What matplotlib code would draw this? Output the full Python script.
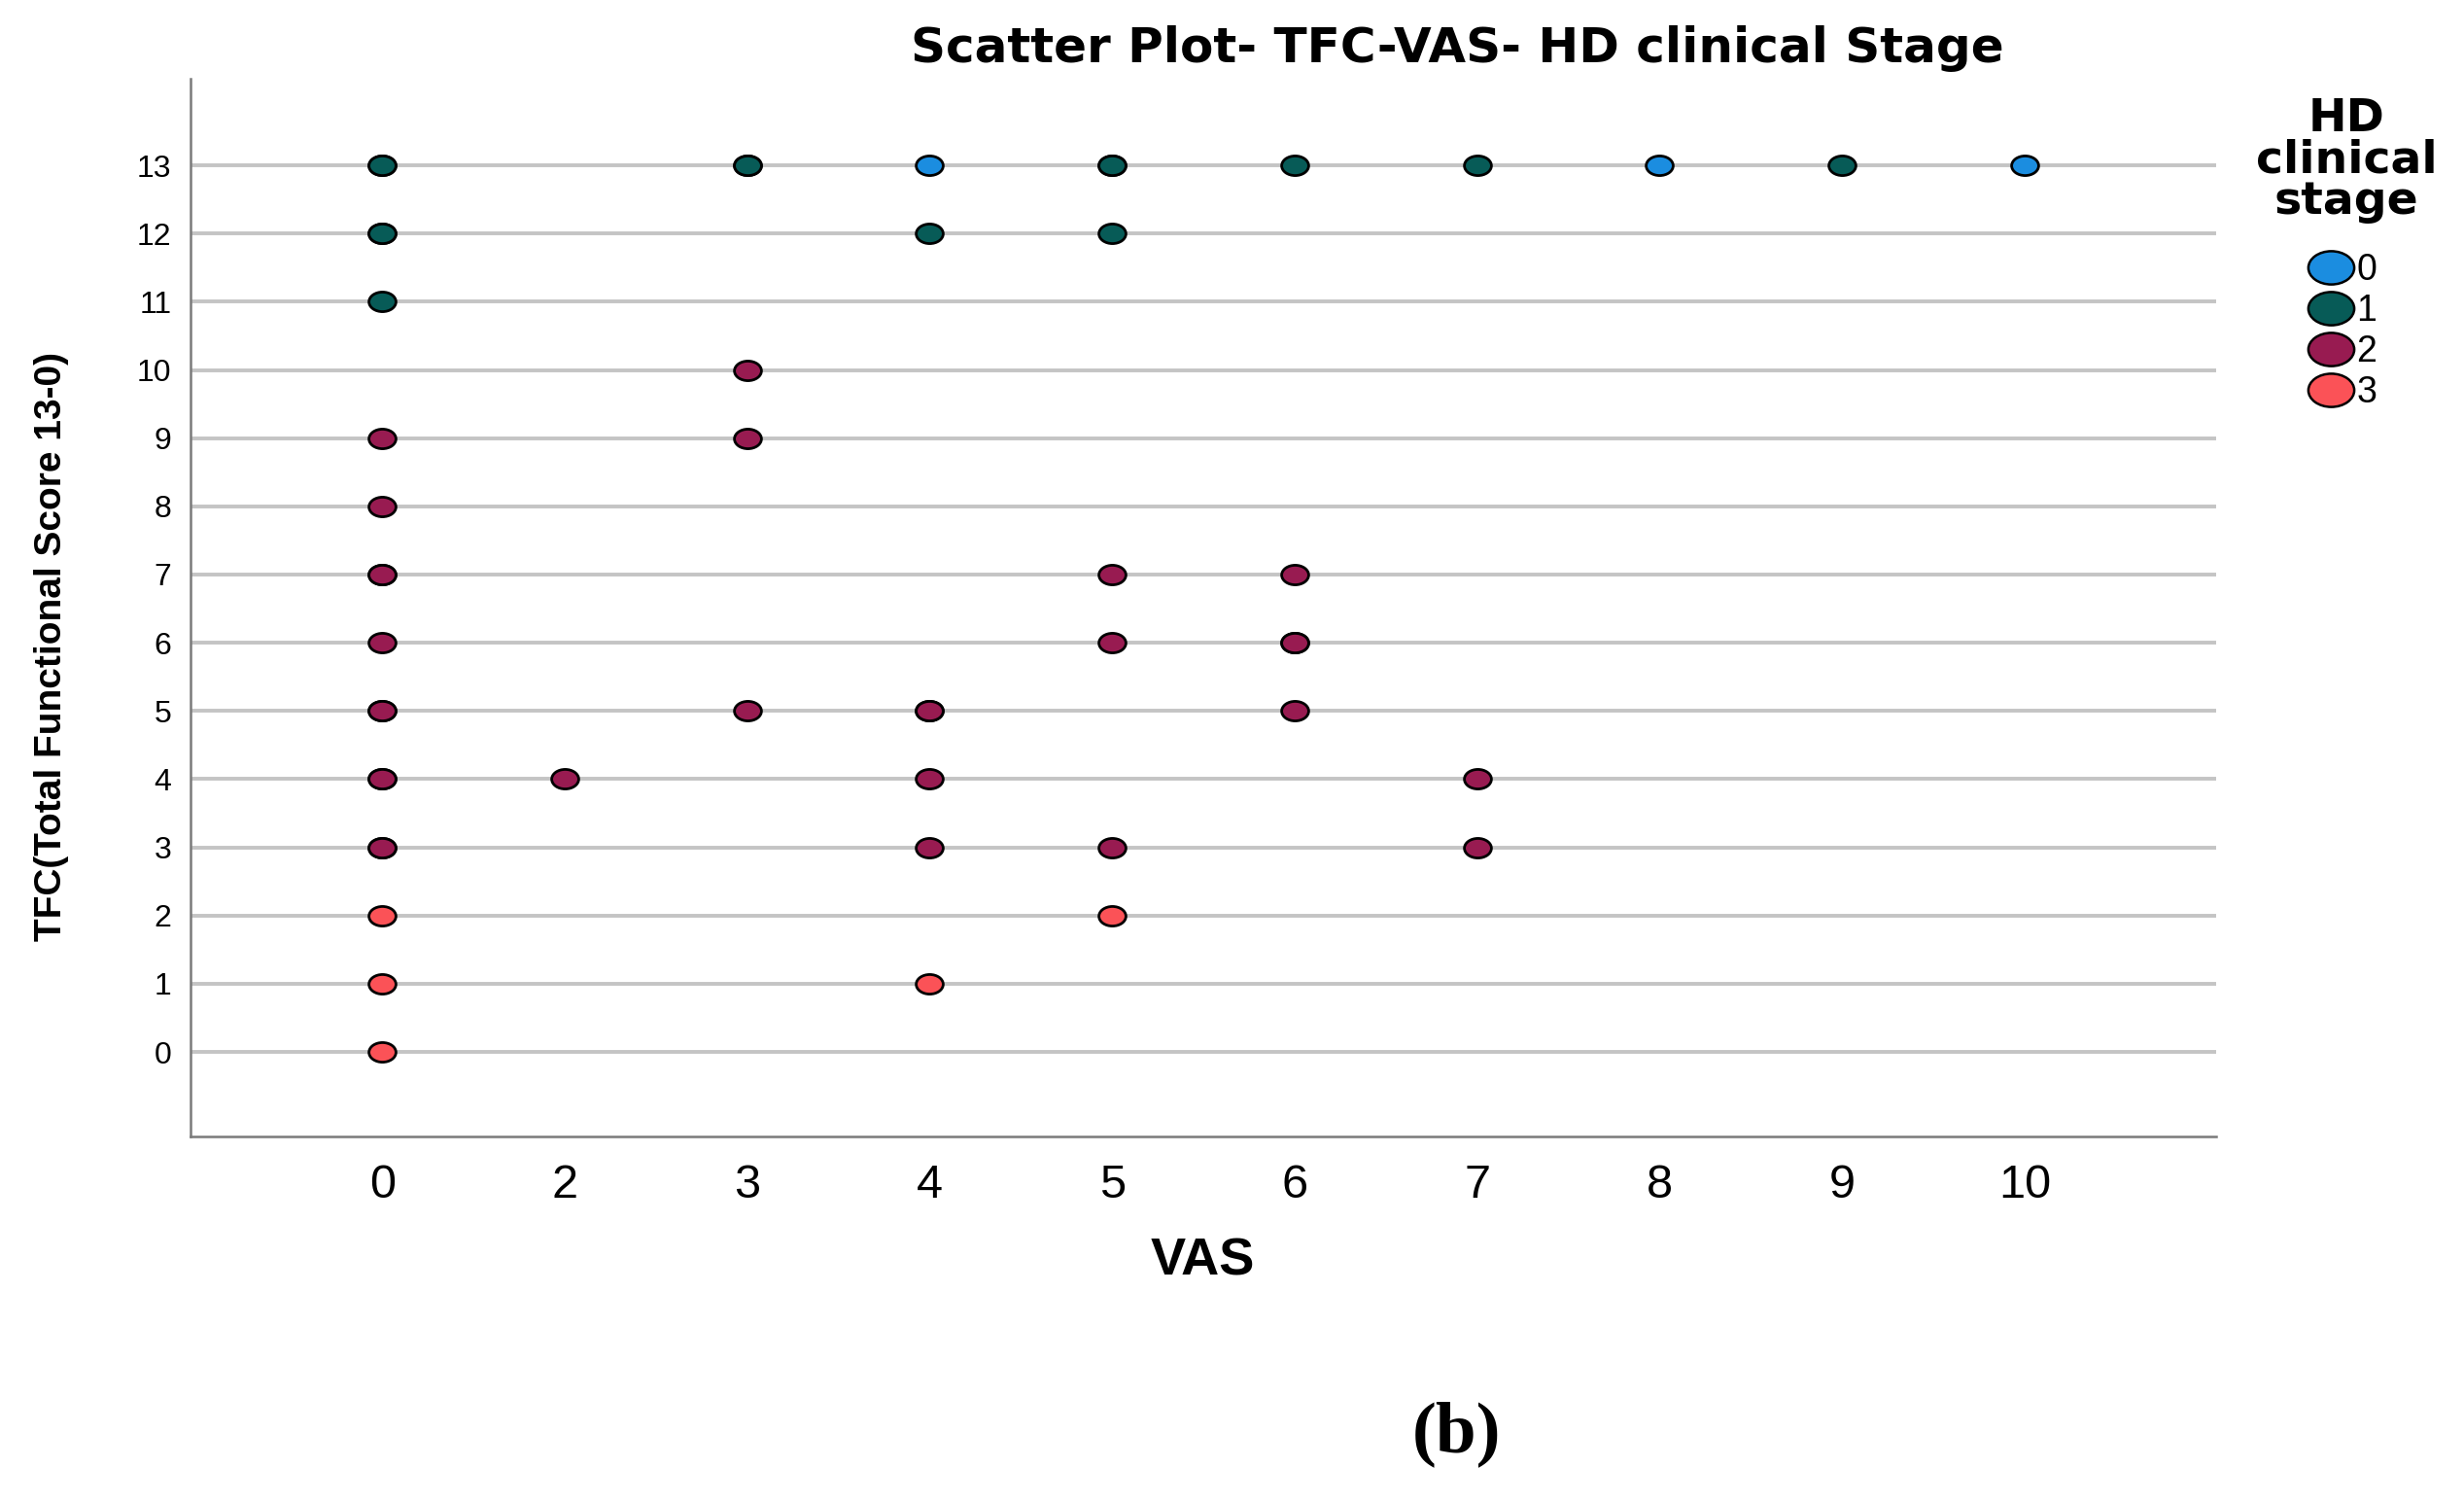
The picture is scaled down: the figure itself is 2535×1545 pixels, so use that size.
import matplotlib
matplotlib.use("Agg")
import matplotlib.pyplot as plt
from matplotlib.path import Path
from matplotlib.transforms import Affine2D
from matplotlib.lines import Line2D

# ---- data ----
vas_categories = [0, 2, 3, 4, 5, 6, 7, 8, 9, 10]
tfc_ticks = list(range(0, 14))
stages = [0, 1, 2, 3]
stage_colors = ["#1b8de0", "#075b57", "#981b51", "#fb5257"]

stage0_vas = [4, 8, 10]
stage0_tfc = [13, 13, 13]

stage1_vas = [0, 0, 3, 3, 5, 5, 6, 7, 9, 0, 0, 4, 5, 0]
stage1_tfc = [13, 13, 13, 13, 13, 13, 13, 13, 13, 12, 12, 12, 12, 11]

stage2_vas = [3, 0, 3, 0, 0, 0, 5, 6, 0, 5, 6, 6, 0, 0, 3, 4, 4, 6, 0, 0, 2, 4, 7, 0, 0, 4, 5, 7]
stage2_tfc = [10, 9, 9, 8, 7, 7, 7, 7, 6, 6, 6, 6, 5, 5, 5, 5, 5, 5, 4, 4, 4, 4, 4, 3, 3, 3, 3, 3]

stage3_vas = [0, 5, 0, 4, 0]
stage3_tfc = [2, 2, 1, 1, 0]

series_vas = [stage0_vas, stage1_vas, stage2_vas, stage3_vas]
series_tfc = [stage0_tfc, stage1_tfc, stage2_tfc, stage3_tfc]

# ---- figure ----
fig = plt.figure(figsize=(25.35, 15.45), dpi=100)
ax = fig.add_axes([196 / 2535, 1 - 1169 / 1545, (2280 - 196) / 2535, (1169 - 81) / 1545])

ellipse = Path.unit_circle().transformed(Affine2D().scale(1.38, 1.0))

cat_pos = {v: i for i, v in enumerate(vas_categories)}
for st, xs, ys, col in zip(stages, series_vas, series_tfc, stage_colors):
    xp = [cat_pos[v] for v in xs]
    ax.scatter(xp, ys, marker=ellipse, s=400, facecolor=col, edgecolor="black",
               linewidth=2.0, zorder=3)

ax.set_xlim(-1.05, len(vas_categories) - 1 + 1.05)
ax.set_ylim(-1.24, 14.27)
ax.set_xticks(range(len(vas_categories)))
ax.set_xticklabels([str(v) for v in vas_categories])
ax.set_yticks(tfc_ticks)
ax.set_yticklabels([str(t) for t in tfc_ticks])

for t in tfc_ticks:
    ax.axhline(t, color="#c4c4c4", lw=2.8, zorder=1)

for s in ["top", "right"]:
    ax.spines[s].set_visible(False)
for s in ["left", "bottom"]:
    ax.spines[s].set_color("#7a7a7a")
    ax.spines[s].set_linewidth(1.8)

narrow = ["Liberation Sans Narrow", "Liberation Sans", "DejaVu Sans"]
ax.tick_params(axis="both", length=0)
ax.tick_params(axis="x", pad=20)
ax.tick_params(axis="y", pad=14)
for lab in ax.get_xticklabels():
    lab.set_fontfamily(narrow)
    lab.set_fontsize(35)
for lab in ax.get_yticklabels():
    lab.set_fontfamily(narrow)
    lab.set_fontsize(23)

fig.text(1499 / 2535, 1 - 50 / 1545, "Scatter Plot- TFC-VAS- HD clinical Stage",
         ha="center", va="center", fontsize=36, fontweight="bold", family="DejaVu Sans")
fig.text(1237 / 2535, 1 - 1298 / 1545, "VAS", ha="center", va="center",
         fontsize=39, fontweight="bold", family=narrow)
fig.text(53 / 2535, 1 - 665 / 1545, "TFC(Total Functional Score 13-0)", ha="center",
         va="center", rotation=90, fontsize=28, fontweight="bold", family=narrow)
fig.text(1499 / 2535, 1 - 1475 / 1545, "(b)", ha="center", va="center",
         fontsize=54, fontweight="bold", family=["Liberation Serif", "DejaVu Serif"])

# legend
fig.text(2414 / 2535, 1 - 165 / 1545, "HD\nclinical\nstage", ha="center", va="center",
         fontsize=34, fontweight="bold", family="DejaVu Sans", linespacing=0.92)
handles = [Line2D([], [], linestyle="none", marker=ellipse, markersize=34,
                  markerfacecolor=c, markeredgecolor="black", markeredgewidth=1.8)
           for c in stage_colors]
leg = fig.legend(handles, [str(s) for s in stages], loc="upper left",
                 bbox_to_anchor=(2340 / 2535, 1 - 226 / 1545), frameon=False,
                 handlelength=1.3, handletextpad=0.05, labelspacing=0.16,
                 prop={"family": narrow, "size": 27})

fig.savefig("out.png", dpi=100, facecolor="white")
